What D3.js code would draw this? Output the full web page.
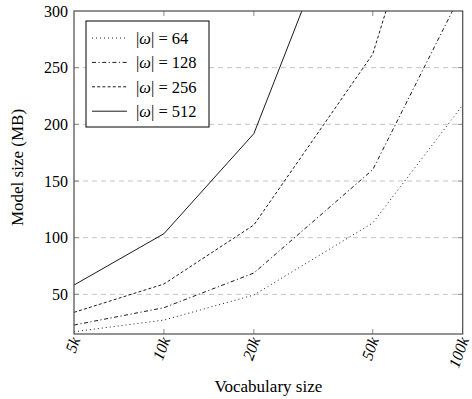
<!DOCTYPE html>
<html>
<head>
    <meta charset="utf-8">
    <style>
        body { margin: 0; background: #fff; }
        svg text { font-family: 'Liberation Serif', 'Times New Roman', serif; }
    </style>
</head>
<body>
    <script src="https://cdn.jsdelivr.net/npm/d3@7"></script>
    <script type="text/javascript">
        var width = 472, height = 399;
        var margin = { left: 74, right: 9.3, top: 11, bottom: 65 };
        var serif = "'Liberation Serif'";

        // data
        var vocab = [5000, 10000, 20000, 50000, 100000];
        var vocabLabels = ["5k", "10k", "20k", "50k", "100k"];
        var omega = [64, 128, 256, 512];
        var size64 = [17, 27.3, 49.4, 113, 217];
        var size128 = [22.9, 38.2, 68.8, 160, 318];
        var size256 = [34.1, 59.1, 111.2, 262, 520];
        var size512 = [58.2, 103.5, 191.8, 460, 900];
        var yTicks = [50, 100, 150, 200, 250, 300];

        var series = [
            { w: omega[0], values: size64, dash: "1,3" },
            { w: omega[1], values: size128, dash: "4,2.5,1.2,2.5" },
            { w: omega[2], values: size256, dash: "3,2.2" },
            { w: omega[3], values: size512, dash: null }
        ];

        var svg = d3.select("body").append("svg")
            .attr("width", width)
            .attr("height", height);

        var x = d3.scaleLog().domain([5000, 100000]).range([margin.left, width - margin.right]);
        var y = d3.scaleLinear().domain([15, 300]).range([height - margin.bottom, margin.top]);

        var x0 = x.range()[0], x1 = x.range()[1], y0 = y.range()[0], y1 = y.range()[1];

        svg.append("defs").append("clipPath").attr("id", "clip")
            .append("rect").attr("x", x0).attr("y", y1).attr("width", x1 - x0).attr("height", y0 - y1);

        // horizontal grid
        svg.selectAll(".grid")
            .data(yTicks.filter(d => d < 300))
            .enter().append("line")
            .attr("class", "grid")
            .attr("x1", x0).attr("x2", x1)
            .attr("y1", d => y(d)).attr("y2", d => y(d))
            .style("stroke", "#c4c4c4")
            .style("stroke-width", 1)
            .style("stroke-dasharray", "5,4");

        // tick marks, inside, on all sides
        var tickLen = 5;
        var tk = svg.append("g").style("stroke", "#8a8a8a").style("stroke-width", 1);
        vocab.slice(1, -1).forEach(function (v) {
            tk.append("line").attr("x1", x(v)).attr("x2", x(v)).attr("y1", y0).attr("y2", y0 - tickLen);
            tk.append("line").attr("x1", x(v)).attr("x2", x(v)).attr("y1", y1).attr("y2", y1 + tickLen);
        });
        yTicks.filter(d => d < 300).forEach(function (v) {
            tk.append("line").attr("x1", x0).attr("x2", x0 + tickLen).attr("y1", y(v)).attr("y2", y(v));
            tk.append("line").attr("x1", x1).attr("x2", x1 - tickLen).attr("y1", y(v)).attr("y2", y(v));
        });

        // lines
        var line = d3.line()
            .x((d, i) => x(vocab[i]))
            .y(d => y(d));

        svg.append("g").attr("clip-path", "url(#clip)")
            .selectAll(".series")
            .data(series)
            .enter().append("path")
            .attr("class", "series")
            .attr("d", d => line(d.values))
            .style("fill", "none")
            .style("stroke", "#000")
            .style("stroke-width", 0.9)
            .style("stroke-dasharray", d => d.dash);

        // frame
        svg.append("rect")
            .attr("x", x0).attr("y", y1)
            .attr("width", x1 - x0).attr("height", y0 - y1)
            .style("fill", "none")
            .style("stroke", "#4a4a4a")
            .style("stroke-width", 1.2);

        // y tick labels
        svg.selectAll(".ylab")
            .data(yTicks)
            .enter().append("text")
            .attr("class", "ylab")
            .attr("x", x0 - 6)
            .attr("y", d => y(d))
            .attr("dy", "0.35em")
            .attr("text-anchor", "end")
            .style("font-family", serif)
            .style("font-size", "16px")
            .text(d => d);

        // x tick labels, rotated
        svg.selectAll(".xlab")
            .data(vocab)
            .enter().append("text")
            .attr("class", "xlab")
            .attr("transform", d => "translate(" + (x(d) + 2) + "," + (y0 + 4) + ") rotate(-70)")
            .attr("text-anchor", "end")
            .attr("dy", "0.3em")
            .style("font-family", serif)
            .style("font-size", "16px")
            .style("font-style", "italic")
            .text((d, i) => vocabLabels[i]);

        // axis titles
        svg.append("text")
            .attr("x", (x0 + x1) / 2)
            .attr("y", 392)
            .attr("text-anchor", "middle")
            .style("font-family", serif)
            .style("font-size", "17px")
            .text("Vocabulary size");

        svg.append("text")
            .attr("transform", "translate(23,167.5) rotate(-90)")
            .attr("text-anchor", "middle")
            .style("font-family", serif)
            .style("font-size", "17px")
            .text("Model size (MB)");

        // legend
        var lg = svg.append("g").attr("transform", "translate(86,21)");
        lg.append("rect")
            .attr("width", 123).attr("height", 106)
            .style("fill", "#fff")
            .style("stroke", "#000")
            .style("stroke-width", 1);

        var rows = lg.selectAll(".lrow")
            .data(series)
            .enter().append("g")
            .attr("class", "lrow")
            .attr("transform", (d, i) => "translate(0," + (17 + i * 24.4) + ")");

        rows.append("line")
            .attr("x1", 6).attr("x2", 41)
            .attr("y1", 0).attr("y2", 0)
            .style("stroke", "#000")
            .style("stroke-width", 0.9)
            .style("stroke-dasharray", d => d.dash);

        var lt = rows.append("text")
            .attr("x", 50)
            .attr("dy", "0.35em")
            .style("font-family", serif)
            .style("font-size", "16.5px");
        lt.append("tspan").text("|");
        lt.append("tspan").style("font-style", "italic").text("ω");
        lt.append("tspan").text(d => "| = " + d.w);
    </script>
</body>
</html>
